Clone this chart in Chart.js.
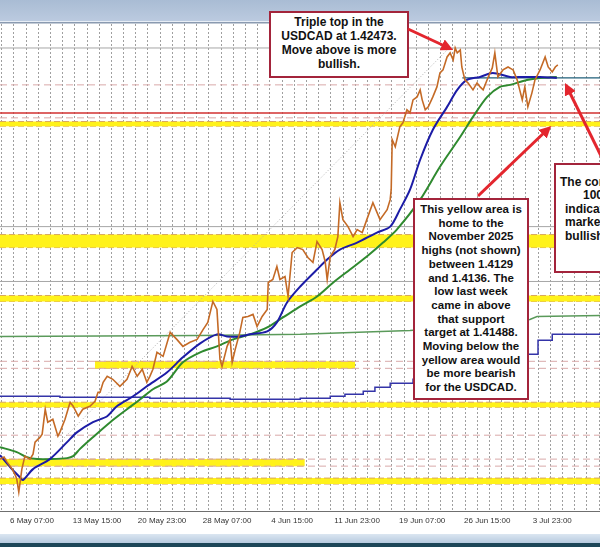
<!DOCTYPE html>
<html>
<head>
<meta charset="utf-8">
<script src="https://cdn.jsdelivr.net/npm/chart.js@4.4.1/dist/chart.umd.min.js"></script>
<style>
  html, body { margin: 0; padding: 0; background: #fff; }
  #wrap { position: relative; width: 600px; height: 547px; overflow: hidden; }
  #chart, #arrows { position: absolute; left: 0; top: 0; }
  .note { position: absolute; box-sizing: border-box; background: #fff; border: 2px solid #a3243b;
          font-family: "Liberation Sans", Arial, sans-serif; font-weight: bold; color: #111;
          text-align: center; white-space: nowrap; }
  #n1 { left: 269px; top: 11px; width: 140px; height: 67px; font-size: 12px; line-height: 14px; padding-top: 2px; }
  #n2 { left: 413px; top: 198px; width: 116px; height: 202px; font-size: 11.5px; line-height: 13.7px; padding-top: 3px; }
  #n3 { left: 554px; top: 163px; width: 200px; height: 110px; font-size: 12px; line-height: 13.4px; padding-top: 11px; text-align: left; }
  #n3 span { display: block; }
</style>
</head>
<body>
<div id="wrap">
  <canvas id="chart" width="600" height="547"></canvas>
  <div class="note" id="n1">Triple top in the<br>USDCAD at 1.42473.<br>Move above is more<br>bullish.</div>
  <div class="note" id="n2">This yellow area is<br>home to the<br>November 2025<br>highs (not shown)<br>between 1.4129<br>and 1.4136. The<br>low last week<br>came in above<br>that support<br>target at 1.41488.<br>Moving below the<br>yellow area would<br>be more bearish<br>for the USDCAD.</div>
  <div class="note" id="n3"><span style="padding-left:4px">The correction held the</span><span style="padding-left:27px">100 hour MA and</span><span style="padding-left:9px">indicates the</span><span style="padding-left:9px">market is still</span><span style="padding-left:9px">bullish.</span></div>
  <svg id="arrows" width="600" height="547">
    <defs>
      <marker id="ah" markerWidth="4" markerHeight="4" refX="2.5" refY="2" orient="auto">
        <path d="M0,0 L4,2 L0,4 z" fill="#e3262e"/>
      </marker>
    </defs>
    <line x1="408" y1="29" x2="449" y2="48" stroke="#e3262e" stroke-width="3" marker-end="url(#ah)"/>
    <line x1="478" y1="196" x2="548" y2="129" stroke="#e3262e" stroke-width="3" marker-end="url(#ah)"/>
    <line x1="604" y1="162" x2="567" y2="87" stroke="#e3262e" stroke-width="3" marker-end="url(#ah)"/>
  </svg>
</div>
<script>
// x values are hourly bar numbers (trading hours only), y values are USDCAD prices
var timeLabels = ['6 May 07:00', '13 May 15:00', '20 May 23:00', '28 May 07:00', '4 Jun 15:00',
                  '11 Jun 23:00', '19 Jun 07:00', '26 Jun 15:00', '3 Jul 23:00'];
var labelBars = [63, 191, 319, 447, 575, 703, 831, 959, 1087];
var firstDayBar = 3.3;
var barsPerDay = 24;
var lastBar = 1181;

var priceBars = [0, 8, 14, 24, 30, 33, 37, 43, 49, 59, 65, 69, 75, 79, 83, 89, 94, 104, 114, 118,
  128, 138, 144, 154, 163, 177, 187, 193, 197, 203, 211, 222, 236, 250, 260, 270, 280, 289, 295, 301,
  309, 321, 335, 348, 360, 374, 388, 400, 409, 419, 427, 433, 437, 447, 453, 457, 463, 472, 478, 488,
  498, 506, 516, 526, 528, 537, 545, 551, 561, 567, 575, 585, 596, 606, 616, 624, 634, 640, 644, 650,
  659, 665, 669, 675, 685, 695, 703, 713, 722, 734, 748, 762, 768, 770, 772, 778, 787, 793, 801, 807,
  813, 821, 827, 831, 837, 843, 852, 860, 866, 872, 880, 886, 892, 896, 900, 906, 909, 915, 921, 931,
  939, 945, 951, 961, 969, 974, 980, 990, 1000, 1010, 1018, 1028, 1033, 1039, 1047, 1053, 1063, 1073,
  1079, 1087, 1093, 1098];
var priceClose = [1.36252, 1.36282, 1.36207, 1.36101, 1.36010, 1.35950, 1.35754, 1.36101, 1.36297, 1.36252,
  1.36328, 1.36509, 1.36554, 1.36584, 1.36630, 1.37007, 1.36811, 1.36856, 1.36599, 1.36660,
  1.36856, 1.37113, 1.37052, 1.36901, 1.37007, 1.37052, 1.37128, 1.37264, 1.37264, 1.37415,
  1.37505, 1.37460, 1.37354, 1.37460, 1.37656, 1.37505, 1.37611, 1.37415, 1.37505, 1.37611,
  1.37868, 1.37807, 1.38170, 1.38064, 1.37958, 1.38019, 1.38064, 1.38215, 1.38321, 1.38638,
  1.38517, 1.37762, 1.37656, 1.37958, 1.38064, 1.37717, 1.37913, 1.38170, 1.38396, 1.38411,
  1.38442, 1.38260, 1.38411, 1.38517, 1.38925, 1.38970, 1.39166, 1.38970, 1.39015, 1.38713,
  1.39378, 1.39453, 1.39423, 1.39302, 1.39227, 1.39544, 1.39423, 1.39242, 1.38970, 1.39317,
  1.39423, 1.39619, 1.40133, 1.39876, 1.39770, 1.39619, 1.39725, 1.39680, 1.39876, 1.40133,
  1.39876, 1.40027, 1.40178, 1.40329, 1.41084, 1.40978, 1.41280, 1.41341, 1.41537, 1.41492,
  1.41688, 1.41733, 1.41839, 1.41688, 1.41537, 1.41582, 1.41733, 1.41884, 1.42096, 1.42141,
  1.42337, 1.42398, 1.42292, 1.42473, 1.42398, 1.42443, 1.42186, 1.41990, 1.41945, 1.41839,
  1.41945, 1.41884, 1.41839, 1.42035, 1.42171, 1.42398, 1.42035, 1.42141, 1.42186, 1.42141,
  1.41990, 1.41688, 1.41884, 1.41582, 1.41794, 1.41990, 1.42141, 1.42337, 1.42186, 1.42111,
  1.42186, 1.42217];

// 100 hour MA (blue) and 200 hour MA (green)
var ma100Bars = [0, 20, 39, 45, 65, 98, 132, 152, 183, 211, 230, 262, 289, 329, 360, 394, 427, 447, 472,
  492, 526, 545, 565, 591, 624, 644, 669, 703, 742, 768, 787, 807, 827, 852, 880, 900, 919, 945, 970,
  1004, 1030, 1063, 1096];
var ma100 = [1.36312, 1.36131, 1.35980, 1.35935, 1.36101, 1.36252, 1.36509, 1.36660, 1.36811, 1.36901,
  1.37052, 1.37203, 1.37354, 1.37566, 1.37792, 1.38004, 1.38140, 1.38109, 1.38109, 1.38140,
  1.38185, 1.38321, 1.38623, 1.38864, 1.39121, 1.39272, 1.39423, 1.39529, 1.39680, 1.39770,
  1.40027, 1.40329, 1.40782, 1.41235, 1.41582, 1.41839, 1.41990, 1.42035, 1.42096, 1.42035,
  1.42035, 1.42035, 1.42020];
var ma200Bars = [0, 33, 53, 73, 98, 132, 144, 157, 183, 217, 250, 276, 301, 329, 360, 394, 427, 459, 492,
  526, 557, 591, 624, 656, 689, 722, 754, 781, 827, 866, 906, 931, 959, 984, 1004, 1037, 1063, 1096];
var ma200 = [1.36433, 1.36358, 1.36282, 1.36252, 1.36252, 1.36267, 1.36297, 1.36403, 1.36584, 1.36811,
  1.37007, 1.37158, 1.37309, 1.37430, 1.37717, 1.37868, 1.37958, 1.38064, 1.38140, 1.38245,
  1.38396, 1.38562, 1.38713, 1.38925, 1.39121, 1.39317, 1.39529, 1.39725, 1.40178, 1.40676,
  1.41129, 1.41431, 1.41733, 1.41884, 1.41915, 1.41990, 1.42020, 1.42035];

// 4 hour MAs carried onto the hourly chart
var ma4hBlueBars = [0, 118, 295, 453, 591, 650, 679, 715, 738, 768, 813, 906, 984, 1059, 1087, 1181];
var ma4hBlue = [1.37203, 1.37188, 1.37173, 1.37158, 1.37173, 1.37203, 1.37234, 1.37279, 1.37339, 1.37400,
  1.37460, 1.37611, 1.37838, 1.38049, 1.38140, 1.38155];
var ma4hGreenBars = [0, 394, 591, 807, 925, 1043, 1057, 1181];
var ma4hGreen = [1.38109, 1.38124, 1.38140, 1.38200, 1.38275, 1.38366, 1.38411, 1.38426];

var trendBars = [118, 880];
var trendLine = [1.36509, 1.42443];

var grayLevels = [1.42473, 1.39770, 1.38940];
var redLevels = [1.41488];
var pinkLevels = [1.41915, 1.41416, 1.37732, 1.37626, 1.36614, 1.36252, 1.36146];
var maLevel = 1.42020, maLevelFrom = 910;

var bandLow  = [1.41290, 1.39453, 1.38638, 1.37626, 1.37037, 1.36146, 1.35875];
var bandHigh = [1.41360, 1.39650, 1.38728, 1.37732, 1.37113, 1.36252, 1.35965];
var bandFrom = [0, 0, 0, 187, 0, 0, 0];
var bandTo   = [1181, 1181, 1181, 699, 1181, 600, 1181];

function pts(xs, ys) { return xs.map(function (x, i) { return { x: x, y: ys[i] }; }); }
function flat(p, a, b) { return [{ x: a, y: p }, { x: b, y: p }]; }

var datasets = [];
datasets.push({ data: pts(priceBars, priceClose), borderColor: '#c46a26', borderWidth: 1.6, order: 0 });
datasets.push({ data: pts(ma100Bars, ma100), borderColor: '#1c1ca6', borderWidth: 2, tension: 0.3, order: 1 });
datasets.push({ data: pts(ma200Bars, ma200), borderColor: '#2f8a2f', borderWidth: 2, tension: 0.3, order: 1 });
datasets.push({ data: pts(ma4hBlueBars, ma4hBlue), borderColor: '#3434a8', borderWidth: 1.5, stepped: true, order: 2 });
datasets.push({ data: pts(ma4hGreenBars, ma4hGreen), borderColor: '#5a9a5a', borderWidth: 1.5, order: 2 });
datasets.push({ data: pts(trendBars, trendLine), borderColor: '#b0b0b0', borderWidth: 1, borderDash: [1, 2], order: 2 });
datasets.push({ data: flat(maLevel, maLevelFrom, lastBar), borderColor: '#1f5f7a', borderWidth: 1.2, order: 2 });
grayLevels.forEach(function (p) {
    datasets.push({ data: flat(p, 0, lastBar), borderColor: '#a6a6a6', borderWidth: 1, order: 3 });
});
redLevels.forEach(function (p) {
    datasets.push({ data: flat(p, 0, lastBar), borderColor: '#d23030', borderWidth: 1.5, order: 3 });
});
pinkLevels.forEach(function (p) {
    datasets.push({ data: flat(p, 0, lastBar), borderColor: '#d9a9a9', borderWidth: 1, borderDash: [7, 4], order: 4 });
});
bandLow.forEach(function (lo, i) {
    datasets.push({ data: flat(bandHigh[i], bandFrom[i], bandTo[i]), borderColor: '#d9a85c', borderWidth: 1,
        borderDash: [6, 3], fill: '+1', backgroundColor: '#fff21a', order: 5 });
    datasets.push({ data: flat(lo, bandFrom[i], bandTo[i]), borderColor: '#d9a85c', borderWidth: 1,
        borderDash: [6, 3], fill: false, order: 5 });
});

var frame = {
    id: 'frame',
    beforeDraw: function (chart) {
        var c = chart.ctx, a = chart.chartArea;
        c.save();
        c.fillStyle = '#fff';
        c.fillRect(0, 0, 600, 547);
        var g = c.createLinearGradient(0, 0, 0, 22);
        g.addColorStop(0, '#a9bcd4');
        g.addColorStop(1, '#bccbe0');
        c.fillStyle = g;
        c.fillRect(0, 0, 600, 21);
        c.fillStyle = '#e8eef6';
        c.fillRect(0, 21, 600, 1);
        c.fillStyle = '#8a9ab0';
        c.fillRect(0, 22, 600, 1.5);
        var g2 = c.createLinearGradient(0, 534, 0, 543);
        g2.addColorStop(0, '#dbe6f1');
        g2.addColorStop(1, '#b7cadf');
        c.fillStyle = g2;
        c.fillRect(0, 534, 600, 9);
        c.fillStyle = '#1d4658';
        c.fillRect(0, 543, 600, 4);
        c.restore();
    },
    afterDraw: function (chart) {
        var c = chart.ctx, a = chart.chartArea;
        c.save();
        c.strokeStyle = '#6f6f6f';
        c.lineWidth = 1;
        c.beginPath();
        c.moveTo(0, a.bottom + 0.5);
        c.lineTo(600, a.bottom + 0.5);
        c.stroke();
        c.restore();
    }
};

new Chart(document.getElementById('chart'), {
    type: 'line',
    data: { datasets: datasets },
    options: {
        responsive: false,
        animation: false,
        devicePixelRatio: 1,
        layout: { padding: { top: 24, left: 0, right: 0, bottom: 0 } },
        elements: { point: { radius: 0 }, line: { tension: 0 } },
        plugins: { legend: { display: false }, tooltip: { enabled: false } },
        scales: {
            x: {
                type: 'linear', min: 0, max: lastBar, position: 'bottom',
                ticks: { display: false },
                grid: { color: 'rgba(80,80,80,0.55)', lineWidth: 1, drawTicks: false },
                border: { display: false, dash: [2, 2] },
                afterBuildTicks: function (s) {
                    var t = [];
                    for (var v = firstDayBar; v < lastBar; v += barsPerDay) t.push({ value: v });
                    s.ticks = t;
                },
                afterFit: function (s) { s.height = 0; }
            },
            xl: {
                type: 'linear', min: 0, max: lastBar, position: 'bottom',
                grid: { display: false, drawTicks: false },
                border: { display: false },
                ticks: {
                    autoSkip: false, maxRotation: 0, padding: 5, color: '#333',
                    font: { family: '"Liberation Sans", Arial, sans-serif', size: 8 },
                    callback: function (v, i) { return timeLabels[i]; }
                },
                afterBuildTicks: function (s) {
                    s.ticks = labelBars.map(function (v) { return { value: v }; });
                },
                afterFit: function (s) { s.height = 36; }
            },
            y: { display: false, min: 1.35467, max: 1.42836 }
        }
    },
    plugins: [frame]
});
</script>
</body>
</html>
